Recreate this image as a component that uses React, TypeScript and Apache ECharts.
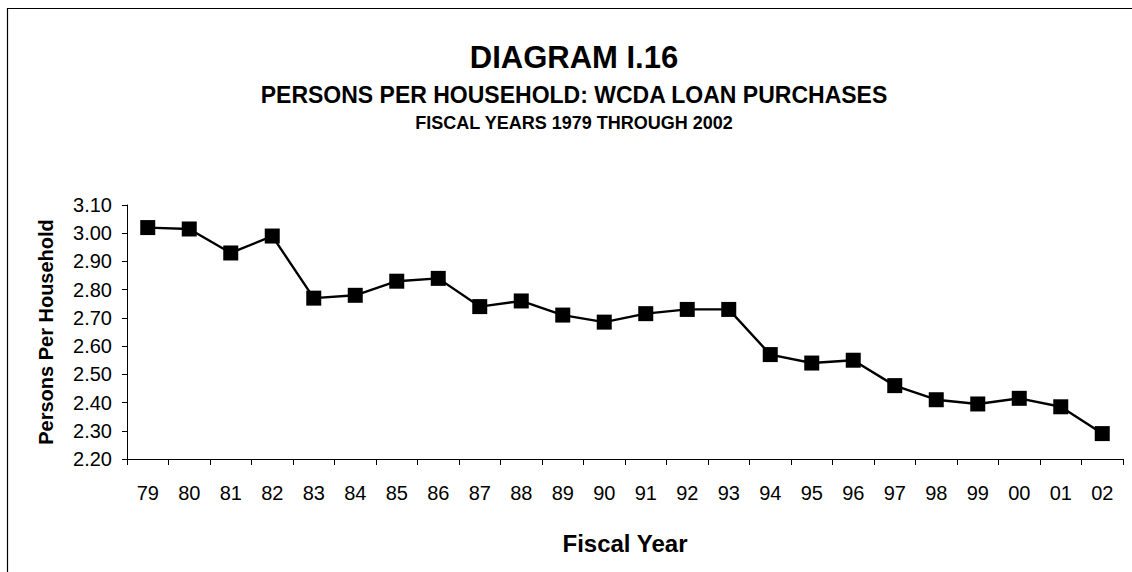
import React, { useEffect, useRef } from "react";
import * as echarts from "echarts";

const years = ["79","80","81","82","83","84","85","86","87","88","89","90","91","92","93","94","95","96","97","98","99","00","01","02"];
const personsPerHousehold = [3.02,3.015,2.93,2.99,2.77,2.78,2.83,2.84,2.74,2.76,2.71,2.685,2.715,2.73,2.73,2.57,2.54,2.55,2.46,2.41,2.395,2.415,2.385,2.29];
const titleMain = "DIAGRAM I.16";
const titleSub = "PERSONS PER HOUSEHOLD: WCDA LOAN PURCHASES";
const titleSub2 = "FISCAL YEARS 1979 THROUGH 2002";
const yName = "Persons Per Household";
const xName = "Fiscal Year";

const FONT = "'Liberation Sans', Arial, sans-serif";

export default function App() {
  const ref = useRef<HTMLDivElement>(null);
  useEffect(() => {
    if (!ref.current) return;
    const chart = echarts.init(ref.current, null, { renderer: "svg" });
    chart.setOption({
      animation: false,
      backgroundColor: "#ffffff",
      textStyle: { fontFamily: FONT },
      graphic: [
        { type: "rect", shape: { x: 7.5, y: 8.5, width: 1300, height: 800 }, style: { fill: "none", stroke: "#000", lineWidth: 1.2 }, silent: true },
        { type: "text", x: 574, y: 57, style: { text: titleMain, font: `bold 31px ${FONT}`, fill: "#000", textAlign: "center", textVerticalAlign: "middle" } },
        { type: "text", x: 574, y: 95, style: { text: titleSub, font: `bold 23px ${FONT}`, fill: "#000", textAlign: "center", textVerticalAlign: "middle" } },
        { type: "text", x: 574, y: 123, style: { text: titleSub2, font: `bold 18px ${FONT}`, fill: "#000", textAlign: "center", textVerticalAlign: "middle" } },
      ],
      grid: { left: 127, right: 9, top: 205, bottom: 113, containLabel: false },
      xAxis: {
        type: "category",
        data: years,
        boundaryGap: true,
        name: xName,
        nameLocation: "middle",
        nameGap: 72,
        nameTextStyle: { fontFamily: FONT, fontWeight: "bold", fontSize: 24, color: "#000" },
        axisLine: { lineStyle: { color: "#000", width: 1 } },
        axisTick: { show: true, length: 6, lineStyle: { color: "#000" } },
        axisLabel: { fontFamily: FONT, fontSize: 20, color: "#000", margin: 24, interval: 0 },
        splitLine: { show: false },
      },
      yAxis: {
        type: "value",
        min: 2.2,
        max: 3.1,
        interval: 0.1,
        name: yName,
        nameLocation: "middle",
        nameGap: 71,
        nameTextStyle: { fontFamily: FONT, fontWeight: "bold", fontSize: 20, color: "#000" },
        axisLine: { show: true, lineStyle: { color: "#000", width: 1 } },
        axisTick: { show: true, length: 5, lineStyle: { color: "#000" } },
        axisLabel: { fontFamily: FONT, fontSize: 20, color: "#000", margin: 15, formatter: (v: number) => v.toFixed(2) },
        splitLine: { show: false },
      },
      series: [
        {
          type: "line",
          data: personsPerHousehold,
          symbol: "rect",
          symbolSize: 15,
          itemStyle: { color: "#000" },
          lineStyle: { color: "#000", width: 2.4 },
        },
      ],
    });
    return () => chart.dispose();
  }, []);
  return <div ref={ref} style={{ position: "fixed", left: 0, top: 0, width: 1132, height: 572 }} />;
}
